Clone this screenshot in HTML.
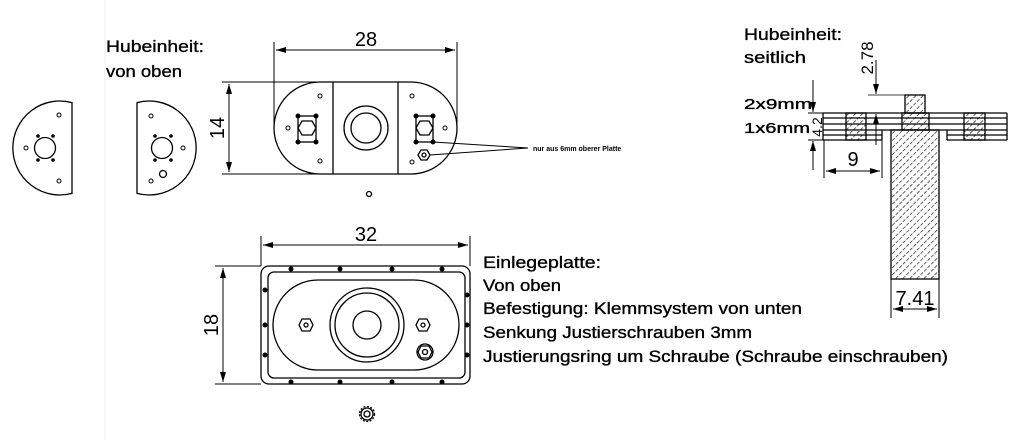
<!DOCTYPE html>
<html><head><meta charset="utf-8"><style>
html,body{margin:0;padding:0;background:#fff;}
svg{display:block;}
text{font-family:"Liberation Sans",sans-serif;fill:#000;}
.t{font-size:17px;stroke:#000;stroke-width:0.35;}
</style></head><body>
<svg width="1024" height="441" viewBox="0 0 1024 441" xmlns="http://www.w3.org/2000/svg">
<defs>
<pattern id="h" width="5" height="5" patternUnits="userSpaceOnUse" patternTransform="rotate(45)">
<line x1="0" y1="0" x2="0" y2="5" stroke="#000" stroke-width="1.2" stroke-dasharray="3.5,1.5"/>
</pattern>
<marker id="a" viewBox="0 0 10 6" refX="10" refY="3" markerWidth="10" markerHeight="6" orient="auto-start-reverse" markerUnits="userSpaceOnUse">
<path d="M0,0 L10,3 L0,6 z" fill="#000"/></marker>
</defs>
<line x1="105" y1="0" x2="105" y2="441" stroke="#eee"/>
<g fill="none" stroke="#000" stroke-width="1.3">
<path d="M72,102.6 A47,47 0 1 0 72,193.4 Z"/>
<circle cx="45" cy="148" r="10.5"/>
<path d="M137,102.6 A47,47 0 1 1 137,193.4 Z"/>
<circle cx="162" cy="148" r="10.5"/>
<circle cx="163" cy="174" r="3.5"/>
<path d="M320,82 L411,82 A46,46 0 0 1 411,174 L320,174 A46,46 0 0 1 320,82 Z"/>
<line x1="333" y1="82" x2="333" y2="174"/><line x1="398" y1="82" x2="398" y2="174"/>
<circle cx="366" cy="128" r="22"/><circle cx="366" cy="128" r="15"/>
<rect x="298" y="116" width="18" height="26"/><polygon points="302,121 312,121 316,128 312,135 302,135 298,128"/>
<rect x="416" y="116" width="17" height="26"/><polygon points="420,121 429,121 433,128 429,135 420,135 416,128"/>
<polygon points="421,150 427,150 430,155 427,160 421,160 418,155"/><circle cx="424" cy="155" r="2"/>
<circle cx="369" cy="194" r="2.5"/>
<line x1="222" y1="82" x2="320" y2="82" stroke-width="1"/><line x1="222" y1="174" x2="320" y2="174" stroke-width="1"/>
<line x1="229" y1="84" x2="229" y2="172" stroke-width="1" marker-start="url(#a)" marker-end="url(#a)"/>
<line x1="274" y1="42" x2="274" y2="128" stroke-width="1"/><line x1="457" y1="42" x2="457" y2="128" stroke-width="1"/>
<line x1="276" y1="50" x2="455" y2="50" stroke-width="1" marker-start="url(#a)" marker-end="url(#a)"/>
<line x1="433" y1="142" x2="528" y2="148" stroke-width="1"/><line x1="430" y1="155" x2="528" y2="148" stroke-width="1"/>
<rect x="261" y="266" width="209" height="118" rx="8"/>
<rect x="268" y="272" width="197" height="106" rx="6"/>
<rect x="273" y="280" width="186" height="90" rx="45"/>
<circle cx="367" cy="325" r="37"/><circle cx="367" cy="325" r="32"/><circle cx="367" cy="325" r="14"/>
<polygon points="302,319 310,319 313,325 310,331 302,331 299,325"/><circle cx="306" cy="325" r="2"/>
<polygon points="419,319 427,319 430,325 427,331 419,331 416,325"/><circle cx="423" cy="325" r="2"/>
<circle cx="425" cy="352" r="8"/><polygon points="421,346 429,346 432,352 429,358 421,358 418,352"/><circle cx="425" cy="352" r="2.5"/>
<line x1="261" y1="236" x2="261" y2="266" stroke-width="1"/><line x1="470" y1="236" x2="470" y2="266" stroke-width="1"/>
<line x1="263" y1="245" x2="468" y2="245" stroke-width="1" marker-start="url(#a)" marker-end="url(#a)"/>
<line x1="215" y1="266" x2="261" y2="266" stroke-width="1"/><line x1="215" y1="384" x2="261" y2="384" stroke-width="1"/>
<line x1="223" y1="268" x2="223" y2="382" stroke-width="1" marker-start="url(#a)" marker-end="url(#a)"/>
<circle cx="367" cy="414" r="6"/><circle cx="367" cy="414" r="3"/><circle cx="367" cy="414" r="7.5" stroke-dasharray="2,1.5"/>
<rect x="905" y="95" width="20" height="18" fill="url(#h)"/>
<line x1="823" y1="113" x2="1007" y2="113"/><line x1="823" y1="118" x2="1007" y2="118"/>
<line x1="823" y1="124" x2="1007" y2="124"/><line x1="823" y1="130" x2="1007" y2="130"/>
<line x1="823" y1="113" x2="823" y2="140"/><line x1="1007" y1="113" x2="1007" y2="140"/>
<line x1="823" y1="135" x2="882" y2="135"/><line x1="823" y1="140" x2="882" y2="140"/><line x1="882" y1="130" x2="882" y2="140"/>
<line x1="947" y1="135" x2="1007" y2="135"/><line x1="947" y1="140" x2="1007" y2="140"/><line x1="947" y1="130" x2="947" y2="140"/>
<rect x="846" y="113" width="20" height="27" fill="url(#h)"/>
<rect x="902" y="113" width="27" height="17" fill="url(#h)"/>
<rect x="964" y="113" width="21" height="27" fill="url(#h)"/>
<rect x="891" y="130" width="48" height="149" fill="url(#h)"/>
<line x1="813" y1="80" x2="813" y2="112" stroke-width="1" marker-end="url(#a)"/>
<line x1="813" y1="170" x2="813" y2="141" stroke-width="1" marker-end="url(#a)"/>
<line x1="808" y1="113" x2="823" y2="113" stroke-width="1"/><line x1="808" y1="140" x2="823" y2="140" stroke-width="1"/>
<line x1="824" y1="140" x2="824" y2="178" stroke-width="1"/><line x1="882" y1="140" x2="882" y2="178" stroke-width="1"/>
<line x1="826" y1="171" x2="880" y2="171" stroke-width="1" marker-start="url(#a)" marker-end="url(#a)"/>
<line x1="891" y1="279" x2="891" y2="318" stroke-width="1"/><line x1="939" y1="279" x2="939" y2="318" stroke-width="1"/>
<line x1="893" y1="309" x2="937" y2="309" stroke-width="1" marker-start="url(#a)" marker-end="url(#a)"/>
<line x1="876" y1="60" x2="876" y2="94" stroke-width="1" marker-end="url(#a)"/>
<line x1="876" y1="145" x2="876" y2="114" stroke-width="1" marker-end="url(#a)"/>
<line x1="868" y1="95" x2="905" y2="95" stroke-width="0.8"/>
</g>
<g fill="#000">
<circle cx="26" cy="148" r="2" fill="none" stroke="#000"/><circle cx="59" cy="115" r="2" fill="none" stroke="#000"/><circle cx="59" cy="181" r="2" fill="none" stroke="#000"/>
<circle cx="38" cy="136" r="1.8"/><circle cx="53" cy="136" r="1.8"/><circle cx="38" cy="160" r="1.8"/><circle cx="53" cy="160" r="1.8"/>
<circle cx="151" cy="116" r="2" fill="none" stroke="#000"/><circle cx="183" cy="148" r="2" fill="none" stroke="#000"/><circle cx="151" cy="181" r="2" fill="none" stroke="#000"/>
<circle cx="155" cy="136" r="1.8"/><circle cx="171" cy="136" r="1.8"/><circle cx="155" cy="160" r="1.8"/><circle cx="171" cy="160" r="1.8"/>
<circle cx="320" cy="96" r="2" fill="none" stroke="#000"/><circle cx="288" cy="128" r="2" fill="none" stroke="#000"/><circle cx="320" cy="161" r="2" fill="none" stroke="#000"/>
<circle cx="412" cy="96" r="2" fill="none" stroke="#000"/><circle cx="445" cy="128" r="2" fill="none" stroke="#000"/><circle cx="412" cy="162" r="2" fill="none" stroke="#000"/>
<circle cx="298" cy="116" r="2.5"/><circle cx="316" cy="116" r="2.5"/><circle cx="298" cy="142" r="2.5"/><circle cx="316" cy="142" r="2.5"/>
<circle cx="416" cy="116" r="2.5"/><circle cx="433" cy="116" r="2.5"/><circle cx="416" cy="142" r="2.5"/><circle cx="433" cy="142" r="2.5"/>
<circle cx="291" cy="269" r="2.5"/><circle cx="340" cy="269" r="2.5"/><circle cx="392" cy="269" r="2.5"/><circle cx="442" cy="269" r="2.5"/>
<circle cx="291" cy="382" r="2.5"/><circle cx="340" cy="382" r="2.5"/><circle cx="392" cy="382" r="2.5"/><circle cx="442" cy="382" r="2.5"/>
<circle cx="265" cy="290" r="2.5"/><circle cx="265" cy="325" r="2.5"/><circle cx="265" cy="355" r="2.5"/>
<circle cx="467" cy="295" r="2.5"/><circle cx="467" cy="325" r="2.5"/><circle cx="467" cy="355" r="2.5"/>
</g>
<g class="t">
<text x="106" y="52" textLength="98" lengthAdjust="spacingAndGlyphs">Hubeinheit:</text>
<text x="106" y="77" textLength="76" lengthAdjust="spacingAndGlyphs">von oben</text>
<text x="744" y="40" textLength="98" lengthAdjust="spacingAndGlyphs">Hubeinheit:</text>
<text x="744" y="63" textLength="62" lengthAdjust="spacingAndGlyphs">seitlich</text>
<text x="744" y="109" font-size="15" textLength="68" lengthAdjust="spacingAndGlyphs">2x9mm</text>
<text x="744" y="133" font-size="15" textLength="66" lengthAdjust="spacingAndGlyphs">1x6mm</text>
<text x="483" y="268" textLength="118" lengthAdjust="spacingAndGlyphs">Einlegeplatte:</text>
<text x="483" y="291" textLength="78" lengthAdjust="spacingAndGlyphs">Von oben</text>
<text x="483" y="314" textLength="319" lengthAdjust="spacingAndGlyphs">Befestigung: Klemmsystem von unten</text>
<text x="483" y="338" textLength="269" lengthAdjust="spacingAndGlyphs">Senkung Justierschrauben 3mm</text>
<text x="483" y="362" textLength="465" lengthAdjust="spacingAndGlyphs">Justierungsring um Schraube (Schraube einschrauben)</text>
</g>
<g font-size="20">
<text x="366" y="46" text-anchor="middle">28</text>
<text x="366" y="241" text-anchor="middle">32</text>
<text x="853" y="166" text-anchor="middle">9</text>
<text x="915" y="305" text-anchor="middle">7.41</text>
<text transform="translate(224,128) rotate(-90)" text-anchor="middle">14</text>
<text transform="translate(218,325) rotate(-90)" text-anchor="middle">18</text>
<text transform="translate(873,58) rotate(-90)" text-anchor="middle" font-size="17">2.78</text>
<text transform="translate(822,127) rotate(-90)" text-anchor="middle" font-size="14">4.2</text>
</g>
<text x="533" y="151" font-size="7" font-weight="bold">nur aus 6mm oberer Platte</text>
</svg>
</body></html>
